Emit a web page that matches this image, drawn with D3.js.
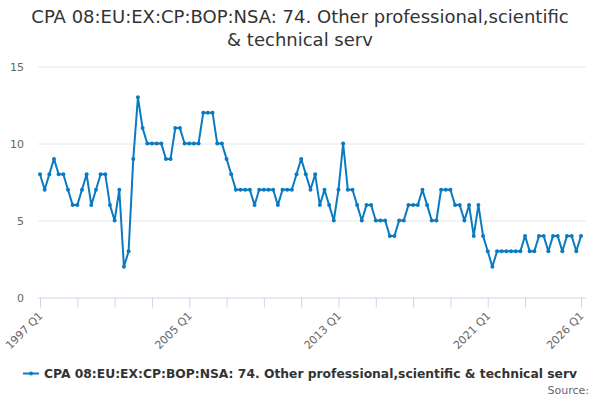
<!DOCTYPE html>
<html><head><meta charset="utf-8">
<script src="https://cdn.jsdelivr.net/npm/d3@7"></script>
<style>
body{margin:0;background:#fff;}
svg{display:block;font-family:"DejaVu Sans",sans-serif;}
</style></head>
<body><svg id="c" width="600" height="400"></svg>
<script>
const titleLines = ["CPA 08:EU:EX:CP:BOP:NSA: 74. Other professional,scientific", "& technical serv"];
const seriesName = "CPA 08:EU:EX:CP:BOP:NSA: 74. Other professional,scientific & technical serv";
const startYear = 1997;
const values = [
 8,7,8,9,8,8,7,6,6,7,8,6,7,8,8,6,5,7,2,3,9,13,11,10,10,10,10,9,9,11,11,10,10,10,10,12,12,12,10,10,9,
 8,7,7,7,7,6,7,7,7,7,6,7,7,7,8,9,8,7,8,6,7,6,5,7,10,7,7,6,5,6,6,5,5,5,4,4,5,5,6,6,
 6,7,6,5,5,7,7,7,6,6,5,6,4,6,4,3,2,3,3,3,3,3,3,4,3,3,4,4,3,4,4,3,4,4,3,4
];
const categories = values.map((v,i)=> (startYear + Math.floor(i/4)) + " Q" + (i%4+1));
const yTicks = [0,5,10,15];
const xTickLabels = ["1997 Q1","2005 Q1","2013 Q1","2021 Q1","2026 Q1"];
const xTickCats = ["1997 Q1","1999 Q1","2001 Q1","2003 Q1","2005 Q1","2007 Q1","2009 Q1","2011 Q1","2013 Q1","2015 Q1","2017 Q1","2019 Q1","2021 Q1","2023 Q1","2026 Q1"];

const svg = d3.select("#c");
const color = "#0a7bc2";
const x = d3.scalePoint().domain(categories).range([40, 581]);
const y = d3.scaleLinear().domain([0,15]).range([297.5, 66.5]);

// title
svg.append("text").attr("x",300).attr("y",23).attr("text-anchor","middle")
  .attr("font-size",18).attr("fill","#333").text(titleLines[0]);
svg.append("text").attr("x",300).attr("y",46).attr("text-anchor","middle")
  .attr("font-size",18).attr("fill","#333").text(titleLines[1]);

// grid
const yAxis = d3.axisLeft(y).tickValues(yTicks).tickSize(-548).tickPadding(14).tickFormat(d3.format("d"));
const gy = svg.append("g").attr("transform","translate(38,0)").call(yAxis);
gy.select(".domain").remove();
gy.selectAll(".tick line").attr("stroke","#e6e6e6").attr("stroke-width",1);
gy.selectAll(".tick text").attr("fill","#666").attr("font-size",11).attr("font-family","DejaVu Sans");
gy.selectAll(".tick").filter(d=>d===0).select("line").remove();

// x axis
const xAxis = d3.axisBottom(x).tickValues(xTickCats).tickSize(10).tickFormat(d => xTickLabels.includes(d) ? d : "");
const gx = svg.append("g").attr("transform","translate(0,297.5)").call(xAxis);
gx.select(".domain").attr("stroke","#ccd6eb").attr("d","M38,0.5H586");
gx.selectAll(".tick line").attr("stroke","#ccd6eb");
gx.selectAll(".tick text").attr("fill","#666").attr("font-size",11).attr("font-family","DejaVu Sans")
  .attr("text-anchor","end").attr("dy",0).attr("y",0)
  .attr("transform","translate(3,19) rotate(-45)");

// line
const line = d3.line().x((d,i)=>x(categories[i])).y(d=>y(d));
svg.append("path").datum(values).attr("d",line).attr("fill","none")
  .attr("stroke",color).attr("stroke-width",2).attr("stroke-linejoin","round");
svg.append("g").selectAll("circle").data(values).join("circle")
  .attr("cx",(d,i)=>x(categories[i])).attr("cy",d=>y(d)).attr("r",2).attr("fill",color);

// legend
svg.append("line").attr("x1",23).attr("x2",39).attr("y1",373.5).attr("y2",373.5).attr("stroke",color).attr("stroke-width",2);
svg.append("circle").attr("cx",31).attr("cy",373.5).attr("r",2).attr("fill",color);
svg.append("text").attr("x",44).attr("y",378).attr("font-size",12).attr("font-weight","bold")
  .attr("fill","#333").attr("textLength",533).attr("lengthAdjust","spacingAndGlyphs").text(seriesName);

// source
svg.append("text").attr("x",589).attr("y",394).attr("text-anchor","end").attr("font-size",11)
  .attr("fill","#666").text("Source:");
</script></body></html>
